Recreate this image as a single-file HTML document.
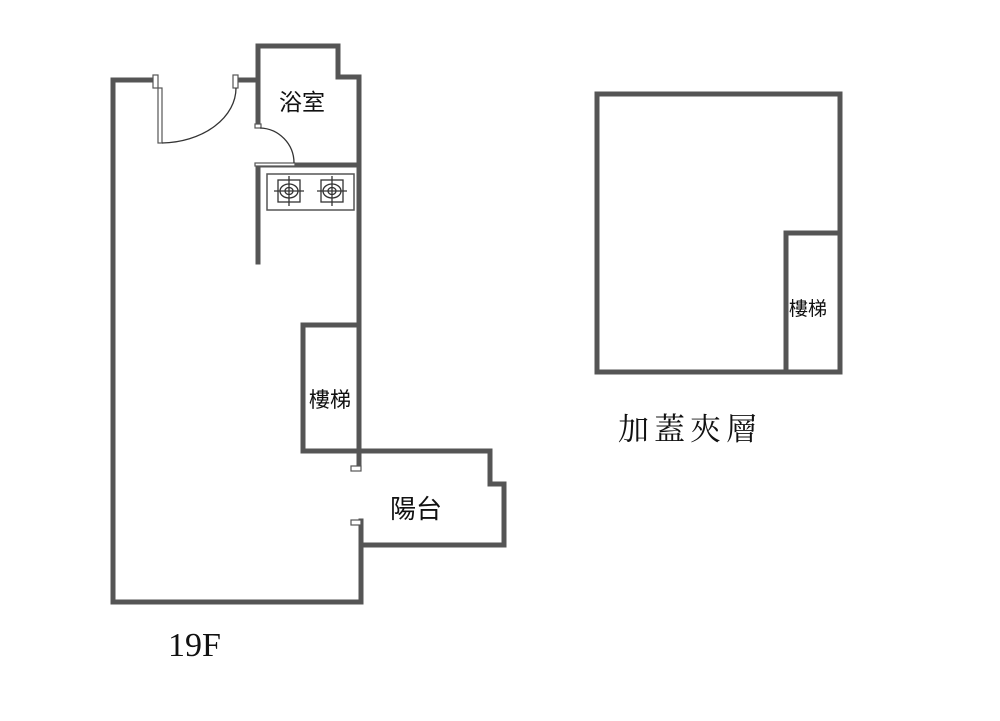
<!DOCTYPE html>
<html><head><meta charset="utf-8"><style>
html,body{margin:0;padding:0;background:#fff;}
svg{display:block;}
</style></head><body>
<svg width="1000" height="721" viewBox="0 0 1000 721" xmlns="http://www.w3.org/2000/svg">
<g fill="none" stroke="#555" stroke-width="5" stroke-linecap="square" stroke-linejoin="miter">
  <polyline points="155,80 113,80 113,602 361,602 361,521"/>
  <line x1="238" y1="80" x2="258" y2="80"/>
  <polyline points="258,125 258,46 338,46 338,77 359,77 359,451"/>
  <line x1="260" y1="165" x2="359" y2="165"/>
  <line x1="258" y1="165" x2="258" y2="262"/>
  <polyline points="359,325 303,325 303,451 490,451 490,484 504,484 504,545 361,545"/>
  <line x1="359" y1="451" x2="359" y2="466"/>
  <rect x="597" y="94" width="243" height="278"/>
  <polyline points="786,372 786,233 840,233"/>
</g>
<g fill="#fff" stroke="#555" stroke-width="1.2">
  <rect x="153" y="75" width="5" height="13"/>
  <rect x="233" y="75" width="5" height="13"/>
  <rect x="158" y="88" width="4" height="55"/>
  <rect x="255" y="124" width="6" height="4"/>
  <rect x="255" y="163" width="40" height="3"/>
  <rect x="351" y="466" width="10" height="5"/>
  <rect x="351" y="520" width="10" height="5"/>
  <rect x="267" y="174" width="87" height="36" stroke-width="1.5"/>
</g>
<g fill="none" stroke="#333" stroke-width="1.3">
  <path d="M162,143 A76,55 0 0 0 236,88"/>
  <path d="M260,128 A35,35 0 0 1 294,163"/>
  <rect x="278" y="180" width="22" height="22"/>
  <ellipse cx="289" cy="191" rx="9" ry="7"/>
  <ellipse cx="289" cy="191" rx="4" ry="3.5"/>
  <path d="M289,176 V206 M274,191 H304"/>
  <rect x="321" y="180" width="22" height="22"/>
  <ellipse cx="332" cy="191" rx="9" ry="7"/>
  <ellipse cx="332" cy="191" rx="4" ry="3.5"/>
  <path d="M332,176 V206 M317,191 H347"/>
</g>
<g font-family="'Liberation Sans','Noto Sans CJK TC',sans-serif" fill="#111">
  <text x="279" y="110" font-size="23">浴室</text>
  <text x="309" y="407" font-size="21">樓梯</text>
  <text x="390" y="518" font-size="26">陽台</text>
  <text x="789" y="315" font-size="19">樓梯</text>
</g>
<text x="168" y="656" font-family="'Liberation Serif',serif" font-size="34" fill="#111">19F</text>
<text x="618" y="440" font-family="'Liberation Serif','Noto Serif CJK SC',serif" font-size="31" letter-spacing="5" fill="#111">加蓋夾層</text>
</svg>
</body></html>
